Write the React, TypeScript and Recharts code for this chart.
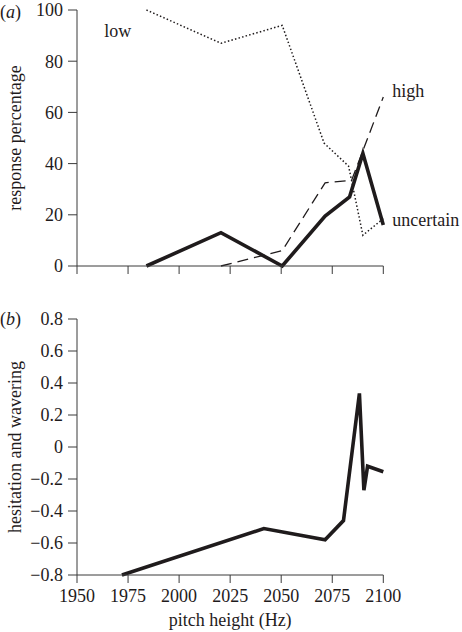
import React from 'react';
import { LineChart, Line, XAxis, YAxis, ReferenceDot } from 'recharts';

const hzTicks = [1950, 1975, 2000, 2025, 2050, 2075, 2100];
const pctTicks = [0, 20, 40, 60, 80, 100];
const hwTicks = [-0.8, -0.6, -0.4, -0.2, 0, 0.2, 0.4, 0.6, 0.8];

const lowHz = [1984, 2020.5, 2050.5, 2071, 2083, 2090, 2100];
const lowPct = [100, 87, 94, 48, 39, 12, 18.5];
const highHz = [2020.5, 2050.5, 2071.5, 2084.5, 2100];
const highPct = [0, 6, 32.5, 33.5, 66];
const uncHz = [1984, 2020.5, 2050.5, 2071.5, 2083.5, 2090, 2100];
const uncPct = [0, 13, 0, 19.5, 27, 44, 16];

const hwHz = [1972, 2041.5, 2071.5, 2080.5, 2088.3, 2090.5, 2092.3, 2100];
const hwVal = [-0.8, -0.51, -0.58, -0.46, 0.335, -0.27, -0.12, -0.155];

const lowData = lowHz.map((hz, i) => ({ hz, v: lowPct[i] }));
const highData = highHz.map((hz, i) => ({ hz, v: highPct[i] }));
const uncData = uncHz.map((hz, i) => ({ hz, v: uncPct[i] }));
const hwData = hwHz.map((hz, i) => ({ hz, v: hwVal[i] }));

const FONT = 'Liberation Serif';
const FS = 18;
const TXT = '#1f1b1c';
const AX = '#3a3a3a';

const fmtHw = (v: number) => {
  if (Math.abs(v) < 1e-9) return '0';
  const s = Math.abs(v).toFixed(1);
  return v < 0 ? '\u2212' + s : s;
};

const YTick = (fmt: (v: number) => string) => (props: any) => {
  const { x, y, payload } = props;
  return (
    <text x={x} y={y} dy="0.35em" textAnchor="end" style={{ fontFamily: FONT }} fontSize={FS} fill={TXT}>
      {fmt(payload.value)}
    </text>
  );
};

const XTick = (props: any) => {
  const { x, y, payload } = props;
  return (
    <text x={x} y={y} dy="0.72em" textAnchor="middle" style={{ fontFamily: FONT }} fontSize={FS} fill={TXT}>
      {String(payload.value)}
    </text>
  );
};

const RotLabel = (text: string) => (props: any) => {
  const vb = props.viewBox || {};
  const cx = 15;
  const cy = vb.y + vb.height / 2;
  return (
    <text x={cx} y={cy} dy="0.35em" textAnchor="middle" transform={`rotate(-90 ${cx} ${cy})`} style={{ fontFamily: FONT }} fontSize={FS} fill={TXT}>
      {text}
    </text>
  );
};

const SideLabel = (text: string, anchor: 'start' | 'middle', dx: number) => (props: any) => {
  const vb = props.viewBox || {};
  const x = vb.x + (vb.width || 0) / 2 + dx;
  const y = vb.y + (vb.height || 0) / 2;
  return (
    <text x={x} y={y} dy="0.35em" textAnchor={anchor} style={{ fontFamily: FONT }} fontSize={FS} fill={TXT}>
      {text}
    </text>
  );
};

const XLabel = (props: any) => {
  const vb = props.viewBox || {};
  return (
    <text x={vb.x + vb.width / 2} y={vb.y + vb.height - 6} textAnchor="middle" style={{ fontFamily: FONT }} fontSize={FS} fill={TXT}>
      pitch height (Hz)
    </text>
  );
};

const panelLabel = (letter: string, top: number) => (
  <div style={{ position: 'absolute', left: 0, top, fontFamily: FONT, fontSize: FS, color: TXT, lineHeight: '20px' }}>
    (<i>{letter}</i>)
  </div>
);

export default function App() {
  return (
    <div style={{ position: 'absolute', left: 0, top: 0, width: 462, height: 632, background: '#fff' }}>
      <div style={{ position: 'absolute', left: 0, top: 0 }}>
        <LineChart width={462} height={290} margin={{ top: 10, right: 78.7, bottom: 0, left: 0 }}>
          <XAxis type="number" dataKey="hz" domain={[1950, 2100]} ticks={hzTicks} height={24} stroke={AX} tickSize={8} tick={() => <g />} />
          <YAxis type="number" domain={[0, 100]} ticks={pctTicks} width={77} stroke={AX} tickSize={9} tickMargin={5}
            tick={YTick((v) => String(v))}
            label={{ content: RotLabel('response percentage') }} />
          <Line data={lowData} dataKey="v" stroke="#1f1b1c" strokeWidth={1.5} strokeDasharray="1.5 2.2" dot={false} isAnimationActive={false} />
          <Line data={highData} dataKey="v" stroke="#1f1b1c" strokeWidth={1.3} strokeDasharray="11 6" dot={false} isAnimationActive={false} />
          <Line data={uncData} dataKey="v" stroke="#1f1b1c" strokeWidth={3.6} dot={false} isAnimationActive={false} />
          <ReferenceDot x={1970} y={92} r={0} ifOverflow="visible" label={{ content: SideLabel('low', 'middle', 0) }} />
          <ReferenceDot x={2100} y={68.5} r={0} ifOverflow="visible" label={{ content: SideLabel('high', 'start', 9) }} />
          <ReferenceDot x={2100} y={18} r={0} ifOverflow="visible" label={{ content: SideLabel('uncertain', 'start', 9) }} />
        </LineChart>
      </div>
      <div style={{ position: 'absolute', left: 0, top: 290 }}>
        <LineChart width={462} height={342} margin={{ top: 29, right: 78.7, bottom: 0, left: 0 }}>
          <XAxis type="number" dataKey="hz" domain={[1950, 2100]} ticks={hzTicks} height={57} stroke={AX} tickSize={8} tickMargin={6}
            tick={XTick} label={{ content: XLabel }} />
          <YAxis type="number" domain={[-0.8, 0.8]} ticks={hwTicks} width={77} stroke={AX} tickSize={9} tickMargin={5}
            tick={YTick(fmtHw)}
            label={{ content: RotLabel('hesitation and wavering') }} />
          <Line data={hwData} dataKey="v" stroke="#1f1b1c" strokeWidth={3.6} dot={false} isAnimationActive={false} />
        </LineChart>
      </div>
      {panelLabel('a', 2)}
      {panelLabel('b', 309)}
    </div>
  );
}
